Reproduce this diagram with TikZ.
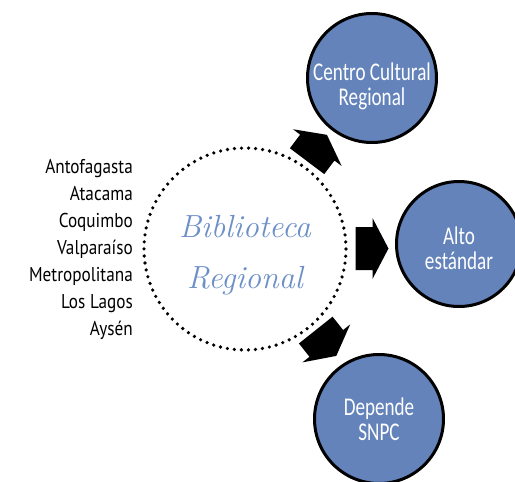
\documentclass[tikz,border=0pt]{standalone}
\usepackage{fontspec}
\newfontfamily\circfont[FakeStretch=0.75]{Carlito}
\newfontfamily\listfont[FakeStretch=0.86]{PT Sans}
\definecolor{circblue}{RGB}{99,131,186}
\definecolor{titleblue}{RGB}{107,143,198}
\begin{document}
\begin{tikzpicture}[x=1pt,y=-1pt,
  bubble/.style={circle,draw=black,line width=3pt,fill=circblue,inner sep=0pt},
  bubtext/.style={text=white,align=center,inner sep=0pt,font=\circfont\fontsize{25.5}{25.5}\selectfont},
  hubring/.style={circle,draw=black,inner sep=0pt,line width=3.6pt,line cap=round,dash pattern=on 0pt off 7.05pt},
  blockarrow/.style={fill=black,draw=none}]
\useasboundingbox (0,0) rectangle (515,482);
\clip (0,0) rectangle (515,482);
% central dotted circle
\node[hubring,minimum size=202pt] (hub) at (245,249) {};
\node[text=titleblue,align=center,inner sep=0pt,font=\itshape\fontsize{32}{51}\selectfont] (title) at (245,255) {Biblioteca\\Regional};
% list of regions
\node[align=right,anchor=east,inner sep=0pt,font=\listfont\fontsize{20}{27}\selectfont] (list) at (133,249)
 {Antofagasta\\Atacama\\Coquimbo\\Valparaíso\\Metropolitana\\Los Lagos\\Aysén};
% outer circles
\node[bubble,minimum size=129pt] (ccr) at (372,78) {};
\node[bubtext] (ccrtext) at (372,86.5) {Centro Cultural\\Regional};
\node[bubble,minimum size=125pt] (alto) at (459,244) {};
\node[bubtext] (altotext) at (459,248) {Alto\\estándar};
\node[bubble,minimum size=129pt] (snpc) at (379,419) {};
\node[bubtext] (snpctext) at (379,419) {Depende\\SNPC};
% block arrows
\begin{scope}[shift={(317,148)},rotate=53]
\fill[blockarrow] (-16.5,-21.5) -- (0.5,-21.5) -- (0.5,-30.5) -- (16.5,0) -- (0.5,30.5) -- (0.5,21.5) -- (-16.5,21.5) -- cycle;
\end{scope}
\begin{scope}[shift={(372,248.5)}]
\fill[blockarrow] (-16.5,-21.5) -- (0.5,-21.5) -- (0.5,-30.5) -- (16.5,0) -- (0.5,30.5) -- (0.5,21.5) -- (-16.5,21.5) -- cycle;
\end{scope}
\begin{scope}[shift={(326,343)},rotate=-51.5]
\fill[blockarrow] (-16.5,-21.5) -- (0.5,-21.5) -- (0.5,-30.5) -- (16.5,0) -- (0.5,30.5) -- (0.5,21.5) -- (-16.5,21.5) -- cycle;
\end{scope}
\end{tikzpicture}
\end{document}
